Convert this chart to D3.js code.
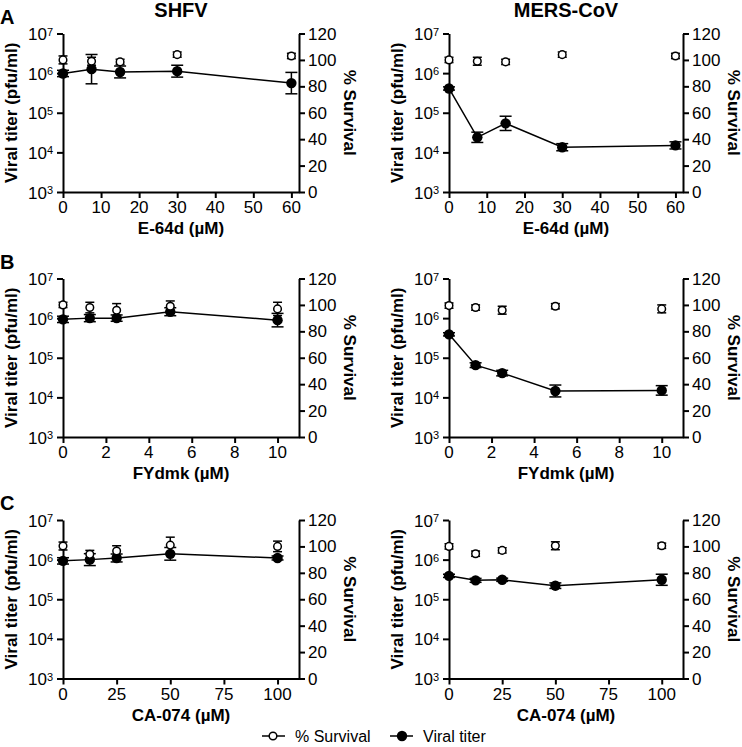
<!DOCTYPE html>
<html><head><meta charset="utf-8">
<script src="https://cdn.jsdelivr.net/npm/d3@7"></script>
<style>
body{margin:0;background:#fff}
svg{display:block}
text{font-family:"Liberation Sans",Arial,Helvetica,sans-serif;fill:#000}
</style>
</head><body>
<svg id="chart" width="742" height="747"></svg>
<script>
// ---------- DATA ----------
const viruses = ["SHFV", "MERS-CoV"];
const panelLetters = ["A", "B", "C"];
const inhibitors = ["E-64d (\u00B5M)", "FYdmk (\u00B5M)", "CA-074 (\u00B5M)"];

const doseE64d = [0, 7.5, 15, 30, 60];
const doseFYdmk = [0, 1.25, 2.5, 5, 10];
const doseCA074 = [0, 12.5, 25, 50, 100];

const xTicksE64d = [0, 10, 20, 30, 40, 50, 60];
const xTicksFYdmk = [0, 2, 4, 6, 8, 10];
const xTicksCA074 = [0, 25, 50, 75, 100];
const xMaxE64d = 62, xMaxFYdmk = 11, xMaxCA074 = 110;

const titerTicks = [1e3, 1e4, 1e5, 1e6, 1e7];
const survivalTicks = [0, 20, 40, 60, 80, 100, 120];

// Viral titer (pfu/ml) and error half-width (log10 units)
const shfvE64dTiter = [9.8e5, 1.26e6, 1.07e6, 1.12e6, 5.6e5];
const shfvE64dTiterErr = [0.08, 0.37, 0.15, 0.15, 0.27];
const shfvE64dSurv = [100, 99, 98.5, 104, 103];
const shfvE64dSurvErr = [3, 3, 2, 2, 2];

const mersE64dTiter = [4.1e5, 2.4e4, 5.4e4, 1.35e4, 1.5e4];
const mersE64dTiterErr = [0.04, 0.13, 0.18, 0.09, 0.09];
const mersE64dSurv = [100, 99, 98.5, 104, 103];
const mersE64dSurvErr = [2, 3, 2, 2, 2];

const shfvFYdmkTiter = [9.3e5, 1.0e6, 1.0e6, 1.45e6, 8.9e5];
const shfvFYdmkTiterErr = [0.08, 0.09, 0.08, 0.1, 0.17];
const shfvFYdmkSurv = [100, 98, 96, 99, 97];
const shfvFYdmkSurvErr = [2, 4, 5, 4, 5];

const mersFYdmkTiter = [3.9e5, 6.5e4, 4.1e4, 1.45e4, 1.5e4];
const mersFYdmkTiterErr = [0.04, 0.06, 0.07, 0.15, 0.12];
const mersFYdmkSurv = [99.5, 98, 96, 99, 97];
const mersFYdmkSurvErr = [2, 2, 3, 2, 3];

const shfvCA074Titer = [9.3e5, 1.0e6, 1.1e6, 1.4e6, 1.1e6];
const shfvCA074TiterErr = [0.08, 0.15, 0.1, 0.16, 0.05];
const shfvCA074Surv = [100.3, 94, 96.5, 101, 100];
const shfvCA074SurvErr = [3, 3, 4, 6, 4];

const mersCA074Titer = [3.9e5, 3.0e5, 3.1e5, 2.2e5, 3.1e5];
const mersCA074TiterErr = [0.04, 0.05, 0.04, 0.07, 0.14];
const mersCA074Surv = [100, 94.5, 97, 100.5, 100.5];
const mersCA074SurvErr = [2, 2, 2, 3, 2];

// ---------- LAYOUT ----------
const colX = [[63, 299], [449, 683]];
const rowY = [[33.5, 192], [278.5, 437], [520, 678.5]];

const rows = [
  {dose: doseE64d, ticks: xTicksE64d, xMax: xMaxE64d, label: inhibitors[0],
   data: [[shfvE64dTiter, shfvE64dTiterErr, shfvE64dSurv, shfvE64dSurvErr],
          [mersE64dTiter, mersE64dTiterErr, mersE64dSurv, mersE64dSurvErr]]},
  {dose: doseFYdmk, ticks: xTicksFYdmk, xMax: xMaxFYdmk, label: inhibitors[1],
   data: [[shfvFYdmkTiter, shfvFYdmkTiterErr, shfvFYdmkSurv, shfvFYdmkSurvErr],
          [mersFYdmkTiter, mersFYdmkTiterErr, mersFYdmkSurv, mersFYdmkSurvErr]]},
  {dose: doseCA074, ticks: xTicksCA074, xMax: xMaxCA074, label: inhibitors[2],
   data: [[shfvCA074Titer, shfvCA074TiterErr, shfvCA074Surv, shfvCA074SurvErr],
          [mersCA074Titer, mersCA074TiterErr, mersCA074Surv, mersCA074SurvErr]]}
];

const svg = d3.select("#chart");
const AX_W = 2, TICK_FS = 17, TITLE_FS = 17;

rows.forEach((row, ri) => {
  const [yb, yt] = [rowY[ri][1], rowY[ri][0]];
  // panel letter
  svg.append("text").attr("x", 0).attr("y", yt - 10)
    .attr("font-size", 20).attr("font-weight", "bold").text(panelLetters[ri]);

  row.data.forEach((d, ci) => {
    const [x0, x1] = colX[ci];
    const [titer, titerErr, surv, survErr] = d;
    const x = d3.scaleLinear().domain([0, row.xMax]).range([x0, x1]);
    const y = d3.scaleLog().domain([1e3, 1e7]).range([yb, yt]);
    const ys = d3.scaleLinear().domain([0, 120]).range([yb, yt]);
    const g = svg.append("g");

    if (ri === 0) {
      g.append("text").attr("x", (x0 + x1) / 2).attr("y", 17)
        .attr("text-anchor", "middle").attr("font-size", 20).attr("font-weight", "bold")
        .text(viruses[ci]);
    }

    // axes
    const axStyle = sel => {
      sel.select(".domain").attr("stroke", "#000").attr("stroke-width", AX_W);
      sel.selectAll(".tick line").attr("stroke", "#000").attr("stroke-width", AX_W);
      sel.selectAll(".tick text").remove();
    };
    g.append("g").attr("transform", `translate(0,${yb})`)
      .call(d3.axisBottom(x).tickValues(row.ticks).tickSize(6).tickSizeOuter(0)).call(axStyle);
    g.append("g").attr("transform", `translate(${x0},0)`)
      .call(d3.axisLeft(y).tickValues(titerTicks).tickSize(6).tickSizeOuter(0)).call(axStyle);
    g.append("g").attr("transform", `translate(${x1},0)`)
      .call(d3.axisRight(ys).tickValues(survivalTicks).tickSize(6).tickSizeOuter(0)).call(axStyle);

    // tick labels
    row.ticks.forEach(t => {
      g.append("text").attr("x", x(t)).attr("y", yb + 21).attr("text-anchor", "middle")
        .attr("font-size", TICK_FS).text(t);
    });
    titerTicks.forEach(t => {
      const tx = g.append("text").attr("x", x0 - 10).attr("y", y(t) + 6.5)
        .attr("text-anchor", "end").attr("font-size", TICK_FS);
      tx.append("tspan").text("10");
      tx.append("tspan").attr("dy", -4.5).attr("font-size", 11).text(Math.round(Math.log10(t)));
    });
    survivalTicks.forEach(t => {
      g.append("text").attr("x", x1 + 9).attr("y", ys(t) + 6).attr("text-anchor", "start")
        .attr("font-size", TICK_FS).text(t);
    });

    // axis titles
    g.append("text").attr("x", (x0 + x1) / 2).attr("y", yb + 42).attr("text-anchor", "middle")
      .attr("font-size", TITLE_FS).attr("font-weight", "bold").text(row.label);
    g.append("text").attr("transform", `translate(${x0 - 46},${(yb + yt) / 2}) rotate(-90)`)
      .attr("text-anchor", "middle").attr("font-size", TITLE_FS).attr("font-weight", "bold")
      .text("Viral titer (pfu/ml)");
    g.append("text").attr("transform", `translate(${x1 + 45},${(yb + yt) / 2}) rotate(90)`)
      .attr("text-anchor", "middle").attr("font-size", TITLE_FS).attr("font-weight", "bold")
      .text("% Survival");

    // titer line
    const pts = row.dose.map((dv, i) => ({x: dv, t: titer[i], e: titerErr[i], s: surv[i], se: survErr[i]}));
    g.append("path").datum(pts)
      .attr("d", d3.line().x(p => x(p.x)).y(p => y(p.t)))
      .attr("fill", "none").attr("stroke", "#000").attr("stroke-width", 1.5);

    // titer error bars
    pts.forEach(p => {
      const cx = x(p.x);
      const hi = y(p.t * Math.pow(10, p.e)), lo = y(p.t / Math.pow(10, p.e));
      g.append("line").attr("x1", cx).attr("x2", cx).attr("y1", hi).attr("y2", lo)
        .attr("stroke", "#000").attr("stroke-width", 1.5);
      [hi, lo].forEach(yy => g.append("line").attr("x1", cx - 6).attr("x2", cx + 6)
        .attr("y1", yy).attr("y2", yy).attr("stroke", "#000").attr("stroke-width", 1.5));
    });
    g.selectAll(null).data(pts).enter().append("circle")
      .attr("cx", p => x(p.x)).attr("cy", p => y(p.t)).attr("r", 5.2).attr("fill", "#000");

    // survival error bars + open circles
    pts.forEach(p => {
      const cx = x(p.x);
      const hi = ys(p.s + p.se), lo = ys(p.s - p.se);
      g.append("line").attr("x1", cx).attr("x2", cx).attr("y1", hi).attr("y2", lo)
        .attr("stroke", "#000").attr("stroke-width", 1.5);
      [hi, lo].forEach(yy => g.append("line").attr("x1", cx - 4.5).attr("x2", cx + 4.5)
        .attr("y1", yy).attr("y2", yy).attr("stroke", "#000").attr("stroke-width", 1.5));
    });
    g.selectAll(null).data(pts).enter().append("circle")
      .attr("cx", p => x(p.x)).attr("cy", p => ys(p.s)).attr("r", 3.8)
      .attr("fill", "#fff").attr("stroke", "#000").attr("stroke-width", 1.5);
  });
});

// ---------- LEGEND ----------
const legendItems = ["% Survival", "Viral titer"];
const legendX = [262, 390];
const lg = svg.append("g");
legendItems.forEach((name, i) => {
  const lx = legendX[i], ly = 736;
  lg.append("line").attr("x1", lx).attr("x2", lx + 23).attr("y1", ly).attr("y2", ly)
    .attr("stroke", "#000").attr("stroke-width", 1.5);
  if (i === 0) {
    lg.append("circle").attr("cx", lx + 11).attr("cy", ly).attr("r", 3.8)
      .attr("fill", "#fff").attr("stroke", "#000").attr("stroke-width", 1.5);
  } else {
    lg.append("circle").attr("cx", lx + 12).attr("cy", ly).attr("r", 5.2).attr("fill", "#000");
  }
  lg.append("text").attr("x", lx + 33).attr("y", ly + 5.5).attr("font-size", 16).text(name);
});
</script>
</body></html>
